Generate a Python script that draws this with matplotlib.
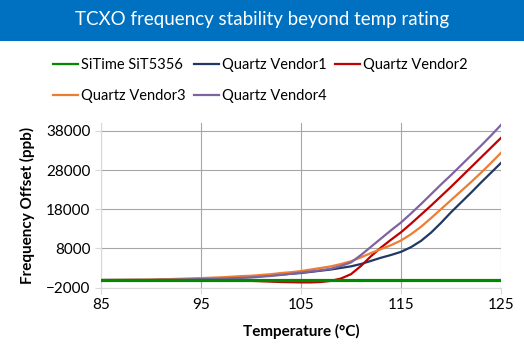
import numpy as np
import matplotlib
matplotlib.use("Agg")
import matplotlib.pyplot as plt
from matplotlib.patches import Rectangle

plt.rcParams['font.family'] = ['Lato', 'DejaVu Sans']

temps = [85, 90, 95, 96, 97, 98, 99, 100, 101, 102, 103, 104, 105, 106, 107, 108, 109,
         110, 111, 112, 113, 114, 115, 116, 117, 118, 119, 120, 121, 122, 123, 124, 125]

sitime = [0] * len(temps)
vendor1 = [-100, -50, 200, 300, 400, 500, 600, 700, 900, 1100, 1300, 1500, 1700, 2000, 2300, 2600, 3000,
           3400, 4000, 4800, 5600, 6300, 7100, 8300, 9900, 12000, 14500, 17200, 19700, 22200, 24800, 27300, 29800]
vendor2 = [-100, -100, -100, -150, -200, -250, -300, -300, -400, -500, -600, -650, -700, -700, -600, -300, 300,
           1400, 3500, 6000, 8200, 10200, 12100, 14300, 16600, 18900, 21300, 23700, 26200, 28700, 31200, 33700, 36200]
vendor3 = [-100, 0, 400, 500, 600, 750, 900, 1000, 1200, 1400, 1700, 1900, 2200, 2600, 3000, 3400, 4000,
           4700, 5700, 6800, 7800, 8800, 10000, 11600, 13500, 15700, 18000, 20300, 22600, 24900, 27300, 29800, 32400]
vendor4 = [-100, -100, 150, 200, 250, 350, 450, 550, 750, 950, 1200, 1500, 1800, 2100, 2400, 2800, 3500,
           4400, 6300, 8400, 10500, 12600, 14600, 16900, 19300, 21800, 24300, 26700, 29200, 31700, 34200, 36800, 39500]

x_ticks = [85, 95, 105, 115, 125]
y_ticks = [-2000, 8000, 18000, 28000, 38000]

fig = plt.figure(figsize=(5.24, 3.55), dpi=100)
ax = fig.add_axes([101/524, 1 - 287.5/355, 400/524, (287.5 - 123)/355])

# title banner
fig.patches.append(Rectangle((0, 1 - 41/355), 1, 41/355, transform=fig.transFigure,
                             facecolor='#0070C0', edgecolor='none'))
fig.text(0.5, 1 - 20/355, 'TCXO frequency stability beyond temp rating', color='white',
         fontsize=13.5, ha='center', va='center')

l0, = ax.plot(temps, sitime, color='#008A00', lw=2.3, label='SiTime SiT5356', zorder=3)
l1, = ax.plot(temps, vendor1, color='#203864', lw=1.6, label='Quartz Vendor1')
l2, = ax.plot(temps, vendor2, color='#C00000', lw=1.6, label='Quartz Vendor2')
l3, = ax.plot(temps, vendor3, color='#ED7D31', lw=1.6, label='Quartz Vendor3')
l4, = ax.plot(temps, vendor4, color='#7F63A1', lw=1.6, label='Quartz Vendor4')

ax.set_xlim(85, 125)
ax.set_ylim(-2000, 40000)
ax.set_xticks(x_ticks)
ax.set_yticks(y_ticks)
ax.grid(True, color='#A6A6A6', lw=0.8)
ax.set_axisbelow(True)
for s in ['top', 'right']:
    ax.spines[s].set_visible(False)
for s in ['left', 'bottom']:
    ax.spines[s].set_color('#D9D9D9')
ax.tick_params(colors='#D9D9D9', labelcolor='black', labelsize=11, length=4, width=0.8)
ax.set_xlabel('Temperature (°C)', fontsize=11, fontweight='bold', labelpad=9)
ax.set_ylabel('Frequency Offset (ppb)', fontsize=11, fontweight='bold', labelpad=8)

handles = [l0, l3, l1, l4, l2]
leg = fig.legend(handles=handles, labels=[h.get_label() for h in handles], ncol=3,
                 loc='upper left', bbox_to_anchor=(40/524, 1 - 45/355), frameon=False,
                 fontsize=10.5, handlelength=1.7, handletextpad=0.2, columnspacing=0.6,
                 labelspacing=1.15)
for h in leg.legend_handles:
    h.set_linewidth(1.6)

fig.savefig('out.png', dpi=100)
